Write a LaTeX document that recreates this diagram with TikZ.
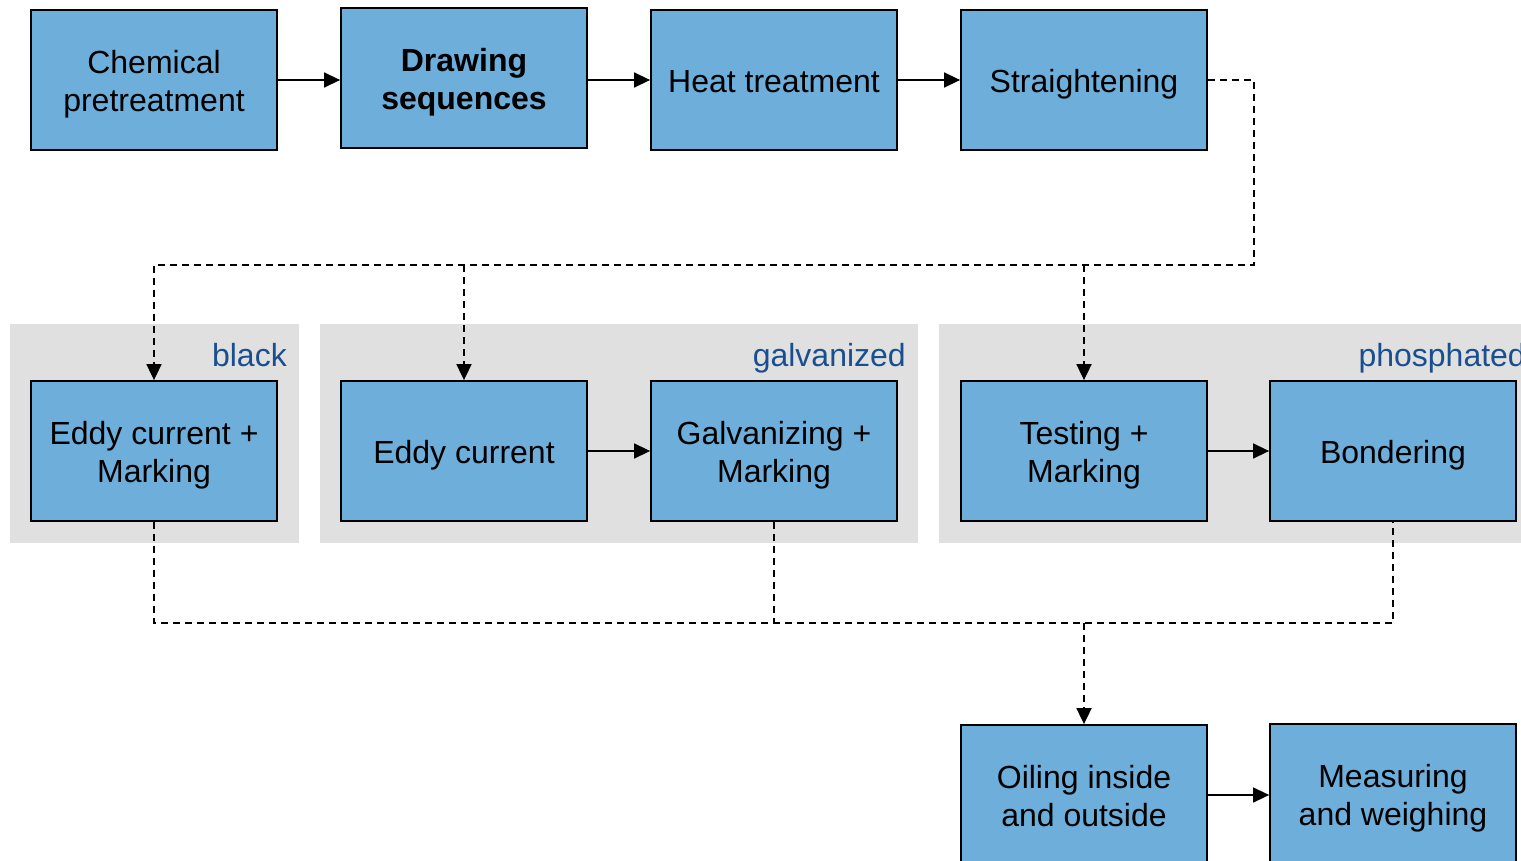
\documentclass[tikz,border=0pt]{standalone}
\usepackage{fontspec}
\setmainfont{Liberation Sans}
\usetikzlibrary{arrows.meta}
\definecolor{boxfill}{HTML}{6DAEDB}
\definecolor{grpfill}{HTML}{E0E0E0}
\definecolor{lblblue}{HTML}{1A4F8F}
\newcommand{\lowtxt}[1]{\raisebox{-5pt}[\height][\depth]{\begin{tabular}{@{}c@{}}#1\end{tabular}}}
\begin{document}
\begin{tikzpicture}[x=1pt,y=-1pt,
  proc/.style={draw=black, line width=1.8pt, fill=boxfill, minimum width=246pt, minimum height=140pt,
    inner sep=0pt, align=center, font=\fontsize{32}{38}\selectfont},
  grp/.style={fill=grpfill, draw=none},
  grplbl/.style={text=lblblue, anchor=base east, inner sep=0pt, font=\fontsize{32}{38}\selectfont},
  flow/.style={line width=1.5pt, -{Triangle[length=16pt,width=15pt]}},
  dashline/.style={line width=1.8pt, dash pattern=on 7pt off 5pt},
  dasharrow/.style={dashline, -{Triangle[length=16pt,width=15pt]}}
]
\useasboundingbox (0,0) rectangle (1521,861);
\clip (0,0) rectangle (1521,861);
% group backgrounds
\fill[grp] (10,324) rectangle (299,543);
\fill[grp] (320,324) rectangle (918,543);
\fill[grp] (939,324) rectangle (1540,543);
\node[grplbl] (lblack) at (287,366) {black};
\node[grplbl] (lgalv) at (906,366) {galvanized};
\node[grplbl] (lphos) at (1526,366) {phosphated};
% row 1
\node[proc] (c1) at (154,80) {\lowtxt{Chemical\\pretreatment}};
\node[proc] (c2) at (464,78) {\lowtxt{\bfseries Drawing\\\bfseries sequences}};
\node[proc] (c3) at (774,80) {\lowtxt{Heat treatment}};
\node[proc] (c4) at (1084,80) {\lowtxt{Straightening}};
% row 2
\node[proc] (b1) at (154,451) {\lowtxt{Eddy current +\\Marking}};
\node[proc] (g1) at (464,451) {\lowtxt{Eddy current}};
\node[proc] (g2) at (774,451) {\lowtxt{Galvanizing +\\Marking}};
\node[proc] (p1) at (1084,451) {\lowtxt{Testing +\\Marking}};
\node[proc] (p2) at (1393,451) {\lowtxt{Bondering}};
% row 3
\node[proc] (o1) at (1084,795) {\lowtxt{Oiling inside\\and outside}};
\node[proc] (m1) at (1393,794) {\lowtxt{Measuring\\and weighing}};
% solid arrows
\draw[flow] (c1) -- (c2.west |- c1);
\draw[flow] (c2.east |- c3) -- (c3);
\draw[flow] (c3) -- (c4);
\draw[flow] (g1) -- (g2);
\draw[flow] (p1) -- (p2);
\draw[flow] (o1) -- (o1 -| m1.west);
% dashed distribution
\coordinate (j1) at (1254,265);
\draw[dasharrow] (c4.east) -| (j1) -| (b1.north);
\draw[dasharrow] (g1.north |- j1) -- (g1.north);
\draw[dasharrow] (p1.north |- j1) -- (p1.north);
% dashed collection
\coordinate (j2) at (1393,623);
\draw[dashline] (b1.south) |- (j2) -- (p2.south);
\draw[dashline] (g2.south) -- (g2.south |- j2);
\draw[dasharrow] (o1.north |- j2) -- (o1.north);
\end{tikzpicture}
\end{document}
